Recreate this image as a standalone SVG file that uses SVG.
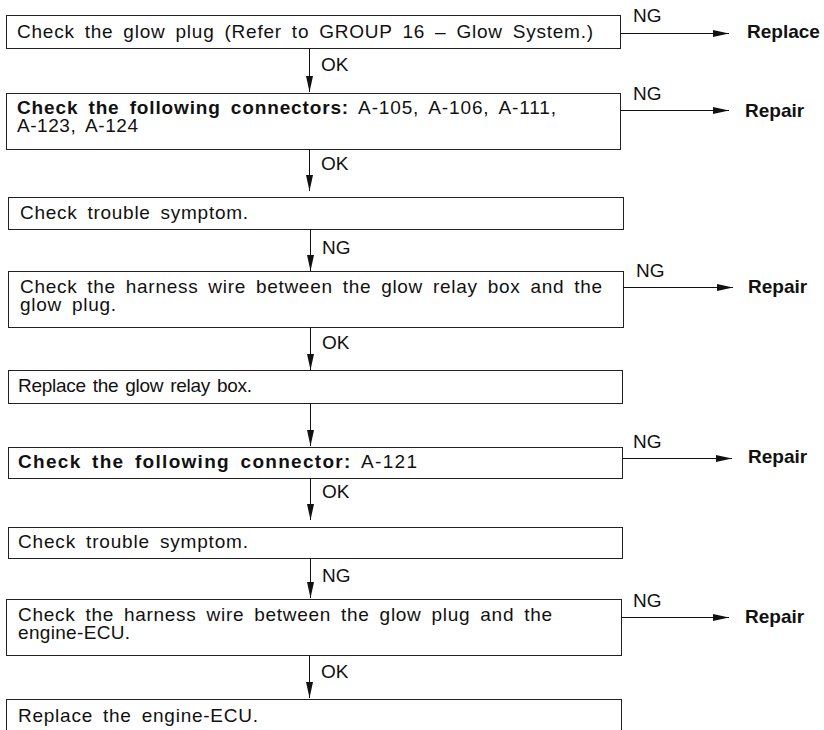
<svg xmlns="http://www.w3.org/2000/svg" width="824" height="730" viewBox="0 0 824 730">
<style>
text{font-family:"Liberation Sans",Arial,sans-serif;font-size:19px;fill:#111}
.w{word-spacing:4px}
.b{font-weight:bold}
.box{fill:#fff;stroke:#222;stroke-width:1}
.c{stroke:#111;stroke-width:1;fill:none}
</style>
<defs>
<marker id="ah" markerUnits="userSpaceOnUse" markerWidth="17" markerHeight="8" refX="16" refY="3.5" orient="auto">
<path d="M0,0 L16,3.5 L0,7 z" fill="#111"/>
</marker>
</defs>
<rect x="0" y="0" width="824" height="730" fill="#fff"/>
<g id="n1"><rect class="box" x="6.5" y="15.5" width="614" height="33"/>
<text class="w" x="17" y="38" textLength="576">Check the glow plug (Refer to GROUP 16 – Glow System.)</text></g>
<g id="n2"><rect class="box" x="6.5" y="93.5" width="614" height="56"/>
<text class="w" x="17" y="114" textLength="539"><tspan class="b">Check the following connectors:</tspan> A-105, A-106, A-111,</text>
<text class="w" x="17" y="132" textLength="121">A-123, A-124</text></g>
<g id="n3"><rect class="box" x="8.5" y="197.5" width="615" height="32"/>
<text class="w" x="20" y="219" textLength="228">Check trouble symptom.</text></g>
<g id="n4"><rect class="box" x="8.5" y="271.5" width="615" height="56"/>
<text class="w" x="20" y="293" textLength="582">Check the harness wire between the glow relay box and the</text>
<text class="w" x="20" y="311" textLength="96">glow plug.</text></g>
<g id="n5"><rect class="box" x="8.5" y="370.5" width="614" height="33"/>
<text x="18" y="392" textLength="234" style="word-spacing:2px">Replace the glow relay box.</text></g>
<g id="n6"><rect class="box" x="8.5" y="447.5" width="614" height="31"/>
<text class="w" x="18" y="468" textLength="399"><tspan class="b">Check the following connector:</tspan> A-121</text></g>
<g id="n7"><rect class="box" x="8.5" y="527.5" width="614" height="31"/>
<text class="w" x="18" y="548" textLength="230">Check trouble symptom.</text></g>
<g id="n8"><rect class="box" x="6.5" y="599.5" width="615" height="56"/>
<text class="w" x="18" y="621" textLength="534">Check the harness wire between the glow plug and the</text>
<text class="w" x="18" y="639" textLength="112">engine-ECU.</text></g>
<g id="n9"><rect class="box" x="6.5" y="699.5" width="615" height="50"/>
<text class="w" x="18" y="722" textLength="240">Replace the engine-ECU.</text></g>
<g id="r1"><text class="b" x="747" y="38">Replace</text></g>
<g id="r2"><text class="b" x="745" y="117">Repair</text></g>
<g id="r3"><text class="b" x="748" y="293">Repair</text></g>
<g id="r4"><text class="b" x="748" y="463">Repair</text></g>
<g id="r5"><text class="b" x="745" y="623">Repair</text></g>
<g id="connectors">
<line class="c" x1="309.5" y1="48" x2="309.5" y2="92" marker-end="url(#ah)"/>
<line class="c" x1="309.5" y1="149" x2="309.5" y2="191" marker-end="url(#ah)"/>
<line class="c" x1="310.5" y1="229" x2="310.5" y2="271" marker-end="url(#ah)"/>
<line class="c" x1="310.5" y1="327" x2="310.5" y2="370" marker-end="url(#ah)"/>
<line class="c" x1="310.5" y1="403" x2="310.5" y2="446" marker-end="url(#ah)"/>
<line class="c" x1="310.5" y1="478" x2="310.5" y2="520" marker-end="url(#ah)"/>
<line class="c" x1="310.5" y1="558" x2="310.5" y2="598" marker-end="url(#ah)"/>
<line class="c" x1="309.5" y1="655" x2="309.5" y2="698" marker-end="url(#ah)"/>
<line class="c" x1="620" y1="33.5" x2="729" y2="33.5" marker-end="url(#ah)"/>
<line class="c" x1="620" y1="110.5" x2="729" y2="110.5" marker-end="url(#ah)"/>
<line class="c" x1="623" y1="287.5" x2="733" y2="287.5" marker-end="url(#ah)"/>
<line class="c" x1="622" y1="458.5" x2="732" y2="458.5" marker-end="url(#ah)"/>
<line class="c" x1="621" y1="617.5" x2="729" y2="617.5" marker-end="url(#ah)"/>
<text x="321" y="71">OK</text>
<text x="321" y="170">OK</text>
<text x="322" y="254">NG</text>
<text x="322" y="349">OK</text>
<text x="322" y="498">OK</text>
<text x="322" y="582">NG</text>
<text x="321" y="678">OK</text>
<text x="633" y="22">NG</text>
<text x="633" y="100">NG</text>
<text x="636" y="277">NG</text>
<text x="633" y="448">NG</text>
<text x="633" y="607">NG</text>
</g>
</svg>
